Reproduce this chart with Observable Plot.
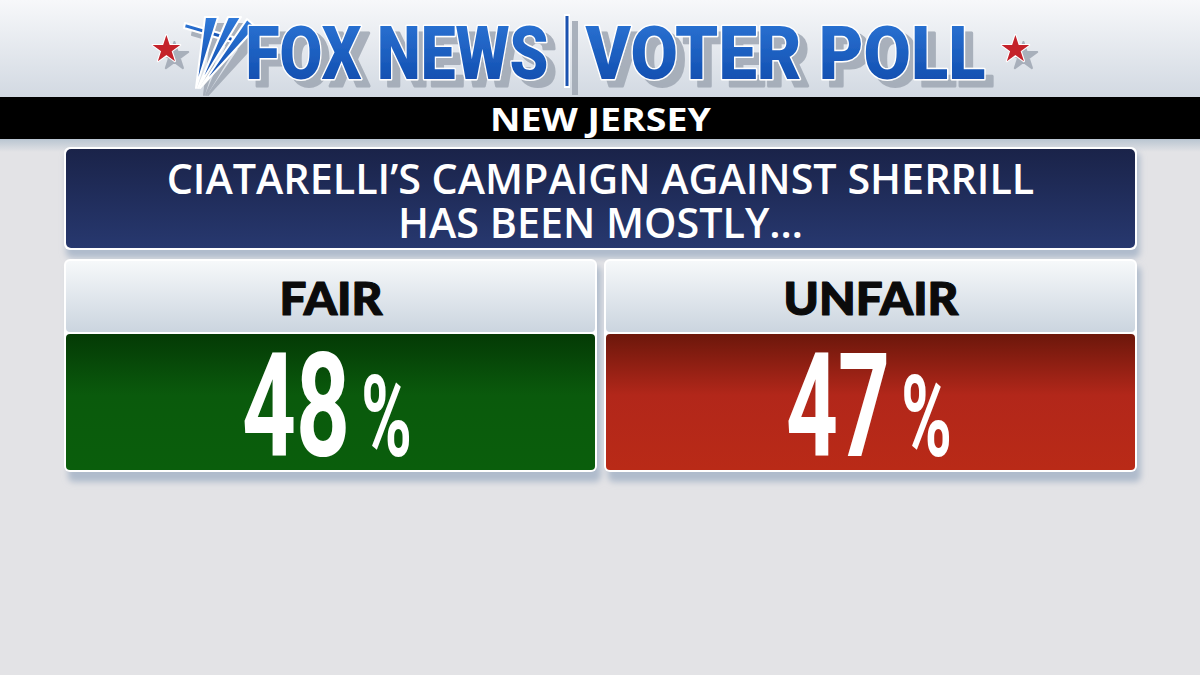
<!DOCTYPE html>
<html>
<head>
<meta charset="utf-8">
<script src="https://cdn.jsdelivr.net/npm/d3@7"></script>
<script src="https://cdn.jsdelivr.net/npm/@observablehq/plot@0.6"></script>
<style>
  html, body { margin: 0; padding: 0; background: #e3e3e6; }
  #chart svg { display: block; }
</style>
</head>
<body>
<div id="chart"></div>
<script>
// ---- data ----
const categories = ["FAIR", "UNFAIR"];
const values = [48, 47];
const stateLabel = ["NEW JERSEY"];
const questionLines = ["CIATARELLI’S CAMPAIGN AGAINST SHERRILL", "HAS BEEN MOSTLY…"];
const brandLeft = ["FOX NEWS"];
const brandRight = ["VOTER POLL"];

const data = categories.map((c, i) => ({category: c, value: values[i]}));

// ---- layout constants (pixels) ----
const W = 1200, H = 675;
const brandFont = "Roboto, 'DejaVu Sans', sans-serif";
const headFont = "'Open Sans', Lato, sans-serif";
const catFont = "Lato, Roboto, sans-serif";
const numFont = "Roboto, 'Liberation Sans', sans-serif";

const marks = [];
const tags = {};
function add(mark, tag) {
  if (tag) (tags[tag] = tags[tag] || []).push(marks.length);
  marks.push(mark);
}

// header background
add(Plot.rect([0], {y1: 0, y2: 97, fill: "url(#gHead)"}));
// strip under black bar
add(Plot.rect([0], {y1: 139, y2: 152, fill: "url(#gStrip)"}));
// black bar
add(Plot.rect([0], {y1: 97, y2: 139, fill: "#000"}));
add(Plot.text(stateLabel, {y: 130, text: d => d, lineAnchor: "bottom", fill: "white",
  fontSize: 32, fontWeight: 700, fontFamily: headFont}), "state");

// separator
add(Plot.rect([0], {y1: 14, y2: 88, insetLeft: 564, insetRight: 630, fill: "white"}), "drop");
add(Plot.rect([0], {y1: 16, y2: 86, insetLeft: 565.5, insetRight: 631.5, fill: "#1b52b0"}));
// brand text
add(Plot.text(brandLeft, {y: 78, dx: -355, text: d => d, textAnchor: "start", lineAnchor: "bottom",
  fill: "url(#gBlue)", stroke: "white", strokeWidth: 3, paintOrder: "stroke",
  fontSize: 75, fontWeight: 900, fontFamily: brandFont}), "brandL");
add(Plot.text(brandRight, {y: 78, dx: -15, text: d => d, textAnchor: "start", lineAnchor: "bottom",
  fill: "url(#gBlue)", stroke: "white", strokeWidth: 3, paintOrder: "stroke",
  fontSize: 75, fontWeight: 900, fontFamily: brandFont}), "brandR");
// stars
add(Plot.text(["★"], {y: 49, dx: -434, text: d => d, fill: "#c4202b", stroke: "white", strokeWidth: 2,
  paintOrder: "stroke", fontSize: 36, fontFamily: "'DejaVu Sans'"}), "drop");
add(Plot.text(["★"], {y: 49, dx: 415, text: d => d, fill: "#c4202b", stroke: "white", strokeWidth: 2,
  paintOrder: "stroke", fontSize: 36, fontFamily: "'DejaVu Sans'"}), "drop");

// question box
add(Plot.rect([0], {y1: 152, y2: 258, insetLeft: 66, insetRight: 60, fill: "#98aac0", fillOpacity: 0.7, rx: 6}), "shadow");
add(Plot.rect([0], {y1: 147, y2: 250, insetLeft: 64, insetRight: 63, fill: "white", rx: 6}));
add(Plot.rect([0], {y1: 149, y2: 248, insetLeft: 66, insetRight: 65, fill: "url(#gNavy)", rx: 5}));
add(Plot.text([questionLines.join("\n")], {y: 237, text: d => d, lineAnchor: "bottom", lineHeight: 44 / 42,
  fill: "white", fontSize: 42, fontWeight: 600, fontFamily: headFont}), "question");

// panels
add(Plot.barY(data, {x: "category", y1: 266, y2: 482, dx: 4, fill: "#98aac0", fillOpacity: 0.7, rx: 6}), "shadow");
add(Plot.barY(data, {x: "category", y1: 259, y2: 472, fill: "white", rx: 6}));
add(Plot.barY(data, {x: "category", y1: 261, y2: 332, insetLeft: 2, insetRight: 2, fill: "url(#gPanelHead)", rx: 4}));
add(Plot.barY(data, {x: "category", y1: 334, y2: 470, insetLeft: 2, insetRight: 2, fill: "category", rx: 4}));
add(Plot.text(data, {x: "category", y: 314, text: "category", lineAnchor: "bottom", fill: "#0b0b0b",
  stroke: "#0b0b0b", strokeWidth: 1.2, fontSize: 46, fontWeight: 900, fontFamily: catFont}), "catlabel");
add(Plot.text(data, {x: "category", y: 455, text: d => String(d.value), textAnchor: "end", lineAnchor: "bottom", dx: 19,
  fill: "white", fontSize: 144, fontWeight: 700, fontFamily: numFont}), "num");
add(Plot.text(data, {x: "category", y: 455, text: () => "%", textAnchor: "start", lineAnchor: "bottom", dx: 30,
  fill: "white", fontSize: 114, fontWeight: 700, fontFamily: numFont}), "pct");

const chart = Plot.plot({
  width: W,
  height: H,
  margin: 0,
  style: {background: "#e3e3e6", overflow: "visible"},
  x: {type: "band", domain: categories, range: [64, 1137], paddingInner: 0.013, paddingOuter: 0, axis: null},
  y: {type: "linear", domain: [0, H], range: [0, H], axis: null},
  color: {type: "ordinal", domain: categories, range: ["url(#gFair)", "url(#gUnfair)"]},
  marks
});

const svg = d3.select(chart);
const groups = Array.from(chart.children).filter(n => n.tagName.toLowerCase() === "g");

svg.insert("defs", ":first-child").html(`
  <linearGradient id="gHead" x1="0" y1="0" x2="0" y2="1">
    <stop offset="0" stop-color="#f7f8fa"/><stop offset="1" stop-color="#d2d9e2"/></linearGradient>
  <linearGradient id="gStrip" x1="0" y1="0" x2="0" y2="1">
    <stop offset="0" stop-color="#b9c5d1"/><stop offset="1" stop-color="#e3e3e6"/></linearGradient>
  <linearGradient id="gNavy" x1="0" y1="0" x2="0" y2="1">
    <stop offset="0" stop-color="#1a2349"/><stop offset="1" stop-color="#27386f"/></linearGradient>
  <linearGradient id="gPanelHead" x1="0" y1="0" x2="0" y2="1">
    <stop offset="0" stop-color="#f6f8fa"/><stop offset="1" stop-color="#cbd5df"/></linearGradient>
  <linearGradient id="gFair" x1="0" y1="0" x2="0" y2="1">
    <stop offset="0" stop-color="#043a05"/><stop offset="0.45" stop-color="#0a5a0c"/><stop offset="1" stop-color="#0a5e0c"/></linearGradient>
  <linearGradient id="gUnfair" x1="0" y1="0" x2="0" y2="1">
    <stop offset="0" stop-color="#6c170b"/><stop offset="0.45" stop-color="#b2271a"/><stop offset="1" stop-color="#b92a17"/></linearGradient>
  <linearGradient id="gBlue" x1="0" y1="0" x2="0" y2="1">
    <stop offset="0" stop-color="#2f79d9"/><stop offset="1" stop-color="#0c46a8"/></linearGradient>
  <filter id="blur" x="-5%" y="-20%" width="110%" height="140%"><feGaussianBlur stdDeviation="3"/></filter>
  <filter id="drop" filterUnits="userSpaceOnUse" x="0" y="0" width="1200" height="140">
    <feDropShadow dx="8" dy="7" stdDeviation="0.6" flood-color="#9ea6b2" flood-opacity="0.85"/></filter>
`);

function tagged(tag) { return (tags[tag] || []).map(i => groups[i]).filter(Boolean); }
tagged("shadow").forEach(g => g.setAttribute("filter", "url(#blur)"));
["drop", "brandL", "brandR"].forEach(t => tagged(t).forEach(g => g.setAttribute("filter", "url(#drop)")));

// Fox searchlight mark (decorative), placed just before the brand text
const logoNode = document.createElementNS("http://www.w3.org/2000/svg", "g");
chart.insertBefore(logoNode, groups[tags.brandL[0]]);
const logo = d3.select(logoNode).attr("filter", "url(#drop)")
  .attr("fill", "url(#gBlue)").attr("stroke", "white").attr("stroke-width", 2).attr("stroke-linejoin", "round");
[
  "M185,23 L233,37 L232,42 L184,28 Z",
  "M196,88 L205,17 L218,17 Z",
  "M198,88 L228,17 L241,17 Z",
  "M200,88 L247,19 L256,27 Z"
].forEach(p => logo.append("path").attr("d", p));

document.getElementById("chart").appendChild(chart);

// condense texts horizontally to the widths seen in the reference
function fit(tag, lengths) {
  tagged(tag).forEach(g => {
    g.querySelectorAll("text").forEach((t, i) => {
      const first = t.querySelector("tspan") || t;
      const w = first.getComputedTextLength();
      if (!w) return;
      const sx = lengths[i % lengths.length] / w;
      const tr = t.getAttribute("transform") || "";
      t.setAttribute("transform", `${tr} scale(${sx.toFixed(4)},1)`);
    });
  });
}
fit("state", [221]);
fit("brandL", [303]);
fit("brandR", [400]);
fit("question", [868]);
fit("catlabel", [103, 175]);
fit("num", [108, 104]);
fit("pct", [51, 51]);
</script>
</body>
</html>
